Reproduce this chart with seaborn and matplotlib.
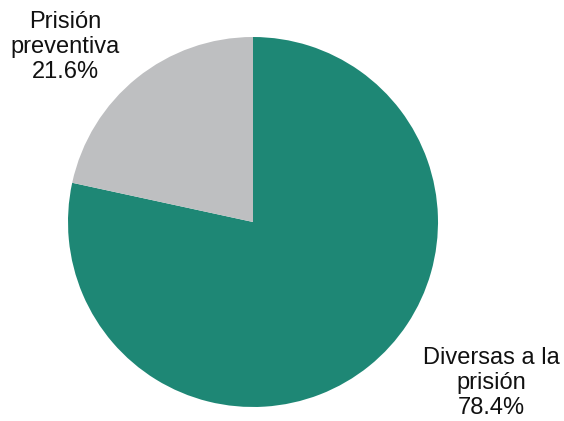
import matplotlib
matplotlib.use("Agg")
import matplotlib.pyplot as plt
import seaborn as sns

# datos
categorias = ["Diversas a la\nprisión", "Prisión\npreventiva"]
valores = [78.4, 21.6]
colores = ["#1e8775", "#bebfc1"]

sns.set_theme(style="white")
plt.rcParams["font.family"] = ["Liberation Sans", "DejaVu Sans"]

fig = plt.figure(figsize=(5.64, 4.21), dpi=100)
# centro del pastel en (253, 222) px, radio 185 px
ax = fig.add_axes([(253 - 185) / 564, (421 - 222 - 185) / 421, 370 / 564, 370 / 421])

ax.pie(valores, colors=colores, startangle=90, counterclock=False,
       wedgeprops={"linewidth": 0})
ax.set_xlim(-1, 1)
ax.set_ylim(-1, 1)
ax.axis("off")

posiciones = [(1.29, -0.87), (-1.015, 0.945)]
for cat, val, (x, y) in zip(categorias, valores, posiciones):
    ax.text(x, y, f"{cat}\n{val}%", ha="center", va="center",
            fontsize=17, color="#111111", linespacing=1.18)

fig.savefig("out.png", dpi=100)
